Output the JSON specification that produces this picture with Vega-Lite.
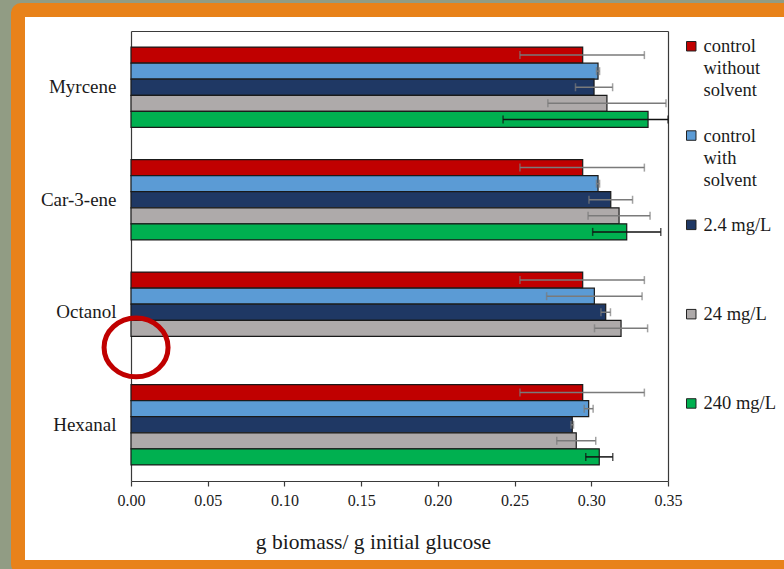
{
  "$schema": "https://vega.github.io/schema/vega-lite/v6.json",
  "width": 773,
  "height": 557,
  "autosize": {"type": "none"},
  "padding": {"left": 18, "top": 10, "right": -7, "bottom": 2},
  "background": "#919C84",
  "config": {
    "view": {"fill": "white", "stroke": "#E8821A", "strokeWidth": 14, "cornerRadius": 3},
    "font": "Liberation Serif",
    "axis": {
      "domainColor": "#3a3a3a",
      "domainWidth": 1.2,
      "tickColor": "#3a3a3a",
      "tickWidth": 1.2,
      "labelFont": "Liberation Serif",
      "labelColor": "#1a1a1a",
      "titleFont": "Liberation Serif",
      "titleColor": "#1a1a1a",
      "titleFontWeight": "normal",
      "grid": false
    },
    "style": {"guide-label": {"lineHeight": 22}}
  },
  "datasets": {
    "biomass": [
      {"compound": "Myrcene", "treatment": "control without solvent", "biomass": 0.2944, "lo": 0.2535, "hi": 0.3346},
      {"compound": "Myrcene", "treatment": "control with solvent", "biomass": 0.3044, "lo": 0.3034, "hi": 0.3054},
      {"compound": "Myrcene", "treatment": "2.4 mg/L", "biomass": 0.3018, "lo": 0.2897, "hi": 0.3139},
      {"compound": "Myrcene", "treatment": "24 mg/L", "biomass": 0.3102, "lo": 0.2717, "hi": 0.3487},
      {"compound": "Myrcene", "treatment": "240 mg/L", "biomass": 0.337, "lo": 0.2425, "hi": 0.4315},
      {"compound": "Car-3-ene", "treatment": "control without solvent", "biomass": 0.2944, "lo": 0.2535, "hi": 0.3346},
      {"compound": "Car-3-ene", "treatment": "control with solvent", "biomass": 0.3044, "lo": 0.3034, "hi": 0.3054},
      {"compound": "Car-3-ene", "treatment": "2.4 mg/L", "biomass": 0.3127, "lo": 0.2985, "hi": 0.3269},
      {"compound": "Car-3-ene", "treatment": "24 mg/L", "biomass": 0.3181, "lo": 0.2979, "hi": 0.3383},
      {"compound": "Car-3-ene", "treatment": "240 mg/L", "biomass": 0.3231, "lo": 0.3009, "hi": 0.3453},
      {"compound": "Octanol", "treatment": "control without solvent", "biomass": 0.2944, "lo": 0.2535, "hi": 0.3346},
      {"compound": "Octanol", "treatment": "control with solvent", "biomass": 0.302, "lo": 0.2709, "hi": 0.3331},
      {"compound": "Octanol", "treatment": "2.4 mg/L", "biomass": 0.3094, "lo": 0.3063, "hi": 0.3125},
      {"compound": "Octanol", "treatment": "24 mg/L", "biomass": 0.3194, "lo": 0.3021, "hi": 0.3367},
      {"compound": "Hexanal", "treatment": "control without solvent", "biomass": 0.2944, "lo": 0.2535, "hi": 0.3346},
      {"compound": "Hexanal", "treatment": "control with solvent", "biomass": 0.2983, "lo": 0.2954, "hi": 0.3012},
      {"compound": "Hexanal", "treatment": "2.4 mg/L", "biomass": 0.2876, "lo": 0.2868, "hi": 0.2884},
      {"compound": "Hexanal", "treatment": "24 mg/L", "biomass": 0.2902, "lo": 0.2775, "hi": 0.3029},
      {"compound": "Hexanal", "treatment": "240 mg/L", "biomass": 0.3052, "lo": 0.2964, "hi": 0.314}
    ],
    "highlight": [
      {"compound": "Octanol", "treatment": "240 mg/L", "biomass": 0.0033}
    ]
  },
  "data": {"name": "biomass"},
  "layer": [
    {
      "mark": {"type": "bar", "stroke": "#1a1a1a", "strokeWidth": 1.2},
      "encoding": {
        "x": {
          "field": "biomass",
          "type": "quantitative",
          "scale": {"domain": [0, 0.35], "range": [113, 650], "clamp": true, "nice": false, "zero": true},
          "axis": {
            "orient": "bottom",
            "offset": -86,
            "values": [0, 0.05, 0.1, 0.15, 0.2, 0.25, 0.3, 0.35],
            "format": ".2f",
            "labelFontSize": 16,
            "labelFlush": false,
            "labelOverlap": false,
            "tickSize": 5,
            "labelPadding": 6,
            "title": "g biomass/ g initial glucose",
            "titleFontSize": 21.5,
            "titleX": 355,
            "titleY": 67,
            "titleAlign": "center",
            "titleBaseline": "alphabetic"
          }
        },
        "y": {
          "field": "compound",
          "type": "nominal",
          "scale": {"type": "band", "domain": ["Myrcene", "Car-3-ene", "Octanol", "Hexanal"], "range": [21, 471], "paddingInner": 0, "paddingOuter": 0},
          "axis": {"orient": "left", "offset": -113, "ticks": false, "labelPadding": 15, "labelFontSize": 19, "title": null}
        },
        "yOffset": {
          "field": "treatment",
          "type": "nominal",
          "scale": {"domain": ["control without solvent", "control with solvent", "2.4 mg/L", "24 mg/L", "240 mg/L"], "paddingInner": 0, "paddingOuter": 1.06}
        },
        "color": {
          "field": "treatment",
          "type": "nominal",
          "scale": {
            "domain": ["control without solvent", "control with solvent", "2.4 mg/L", "24 mg/L", "240 mg/L"],
            "range": ["#C00000", "#5B9BD5", "#1F3864", "#AEAAAA", "#00B050"]
          },
          "legend": {
            "orient": "none",
            "legendX": 664,
            "legendY": 27,
            "title": null,
            "padding": 0,
            "symbolType": "square",
            "symbolSize": 90,
            "symbolStrokeColor": "#222222",
            "symbolStrokeWidth": 1,
            "labelFont": "Liberation Serif",
            "labelFontSize": 18.5,
            "labelColor": "#1a1a1a",
            "labelLimit": 0,
            "labelOffset": 3,
            "rowPadding": 26.3,
            "labelExpr": "datum.label == 'control without solvent' ? ['control', 'without', 'solvent'] : datum.label == 'control with solvent' ? ['control', 'with', 'solvent'] : [datum.label, ' ', ' ']"
          }
        }
      }
    },
    {
      "mark": {"type": "rule", "strokeWidth": 1.5},
      "encoding": {
        "x": {
          "field": "lo",
          "type": "quantitative",
          "axis": {"orient": "top", "offset": -21, "labels": false, "ticks": false, "title": null}
        },
        "x2": {"field": "hi"},
        "y": {
          "field": "compound",
          "type": "nominal",
          "axis": {"orient": "right", "offset": -123, "labels": false, "ticks": false, "title": null}
        },
        "yOffset": {"field": "treatment", "type": "nominal"},
        "color": {"condition": {"test": "datum.treatment === '240 mg/L'", "value": "#111111"}, "value": "#7a7a7a"}
      }
    },
    {
      "mark": {"type": "tick", "size": 8, "thickness": 1.5},
      "encoding": {
        "x": {"field": "lo", "type": "quantitative", "axis": null},
        "y": {"field": "compound", "type": "nominal", "axis": null},
        "yOffset": {"field": "treatment", "type": "nominal"},
        "color": {"condition": {"test": "datum.treatment === '240 mg/L'", "value": "#111111"}, "value": "#7a7a7a"}
      }
    },
    {
      "mark": {"type": "tick", "size": 8, "thickness": 1.5},
      "encoding": {
        "x": {"field": "hi", "type": "quantitative", "axis": null},
        "y": {"field": "compound", "type": "nominal", "axis": null},
        "yOffset": {"field": "treatment", "type": "nominal"},
        "color": {"condition": {"test": "datum.treatment === '240 mg/L'", "value": "#111111"}, "value": "#7a7a7a"}
      }
    },
    {
      "data": {"name": "highlight"},
      "mark": {
        "type": "point",
        "shape": "M -1 0.094 A 1 0.92 0 1 0 1 0.094 A 1 0.92 0 1 0 -1 0.094 Z",
        "filled": false,
        "stroke": "#C00000",
        "strokeWidth": 5,
        "size": 4096,
        "opacity": 1
      },
      "encoding": {
        "x": {"field": "biomass", "type": "quantitative", "axis": null},
        "y": {"field": "compound", "type": "nominal", "axis": null},
        "yOffset": {"field": "treatment", "type": "nominal"}
      }
    }
  ],
  "resolve": {"axis": {"x": "independent", "y": "independent"}}
}
